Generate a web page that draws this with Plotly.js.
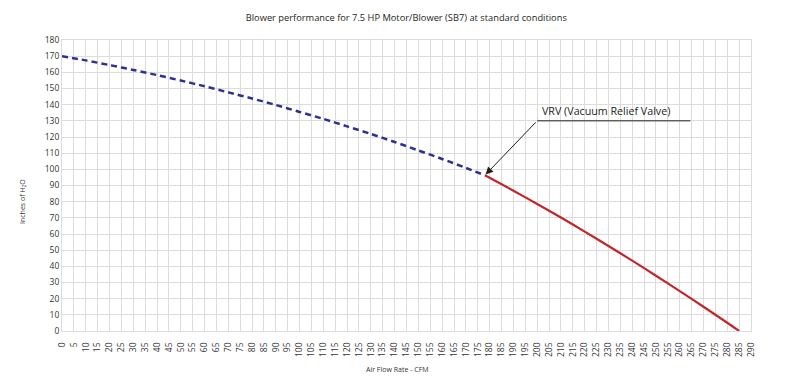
<!DOCTYPE html>
<html>
<head>
<meta charset="utf-8">
<script src="https://cdn.plot.ly/plotly-3.0.1.min.js"></script>
<style>html,body{margin:0;padding:0;background:#fff;}#chart{width:792px;height:391px;}</style>
</head>
<body>
<div id="chart"></div>
<script>
// Blue dashed segment (before VRV)
const flowBlue = [0, 10, 20, 30, 40, 50, 60, 70, 80, 90, 100, 110, 120, 130, 140, 150, 160, 170, 178];
const pressBlue = [170, 167.4, 164.5, 161.5, 158.3, 154.9, 151.4, 147.6, 143.8, 139.8, 135.5, 131.2, 126.6, 121.9, 116.9, 111.7, 106.4, 100.9, 96.3];
// Red solid segment (after VRV)
const flowRed = [178, 190, 200, 210, 220, 230, 240, 250, 260, 270, 280, 285];
const pressRed = [96.3, 86.8, 78.6, 70.2, 61.5, 52.6, 43.5, 34.2, 24.7, 15, 5.1, 0];

const titleText = 'Blower performance for 7.5 HP Motor/Blower (SB7) at standard conditions';
const xTitle = 'Air Flow Rate - CFM';
const yTitle = 'Inches of H<sub>2</sub>O';
const vrvLabel = 'VRV (Vacuum Relief Valve)';

const font = '"Open Sans", "Noto Sans", sans-serif';
const vrvX = flowBlue[flowBlue.length - 1];
const vrvY = pressBlue[pressBlue.length - 1];
const labelX = 200, labelY = 130, labelEnd = 264.5;

const traces = [
  {x: flowBlue, y: pressBlue, type: 'scatter', mode: 'lines',
   line: {color: '#2e3192', width: 2.5, dash: '6px,4px', shape: 'spline', smoothing: 0.8}, hoverinfo: 'skip'},
  {x: flowRed, y: pressRed, type: 'scatter', mode: 'lines',
   line: {color: '#c1272d', width: 2.2, shape: 'spline', smoothing: 0.8}, hoverinfo: 'skip'}
];

const margin = {l: 62, r: 41, t: 40, b: 60};
const plotW = 792 - margin.l - margin.r, plotH = 391 - margin.t - margin.b;
const px = v => (v - margin.l) / plotW;          // pixel x -> paper
const py = v => (391 - margin.b - v) / plotH;    // pixel y -> paper

const layout = {
  width: 792, height: 391,
  margin: margin,
  paper_bgcolor: '#fff', plot_bgcolor: '#fff',
  showlegend: false,
  font: {family: font, color: '#231f20'},
  title: {text: titleText, font: {size: 9.3, family: font, color: '#231f20'}, x: 0.513, xanchor: 'center', y: 0.955, yanchor: 'middle'},
  xaxis: {
    range: [0, 290], dtick: 5, tick0: 0, tickangle: -90,
    showgrid: true, gridcolor: '#dcdcdc', gridwidth: 1,
    zeroline: false, showline: true, linecolor: '#dcdcdc', mirror: true,
    ticks: 'outside', ticklen: 7, tickcolor: 'rgba(255,255,255,0)', tickfont: {size: 8.5, color: '#333'}
  },
  yaxis: {
    range: [0, 180], dtick: 10, tick0: 0,
    showgrid: true, gridcolor: '#dcdcdc', gridwidth: 1,
    zeroline: false, showline: true, linecolor: '#dcdcdc', mirror: true,
    ticks: '', ticklen: 0, tickfont: {size: 8.5, color: '#333'}
  },
  shapes: [
    {type: 'line', xref: 'x', yref: 'y', x0: labelX, y0: labelY, x1: labelEnd, y1: labelY,
     line: {color: '#231f20', width: 1}}
  ],
  annotations: [
    {x: vrvX, y: vrvY, ax: labelX, ay: labelY, axref: 'x', ayref: 'y', xref: 'x', yref: 'y',
     text: '', showarrow: true, arrowhead: 2, arrowsize: 1.5, arrowwidth: 1, arrowcolor: '#231f20', standoff: 1},
    {x: labelX + 1.3, y: labelY + 0.8, xref: 'x', yref: 'y', text: vrvLabel, showarrow: false,
     xanchor: 'left', yanchor: 'bottom', font: {size: 10.7, color: '#231f20'}},
    {x: px(22), y: py(202), xref: 'paper', yref: 'paper', text: yTitle, showarrow: false, textangle: -90,
     xanchor: 'center', yanchor: 'middle', font: {size: 7, color: '#333'}},
    {x: px(397), y: py(369), xref: 'paper', yref: 'paper', text: xTitle, showarrow: false,
     xanchor: 'center', yanchor: 'middle', font: {size: 7, color: '#333'}}
  ]
};

Plotly.newPlot('chart', traces, layout, {displayModeBar: false, staticPlot: true});
</script>
</body>
</html>
